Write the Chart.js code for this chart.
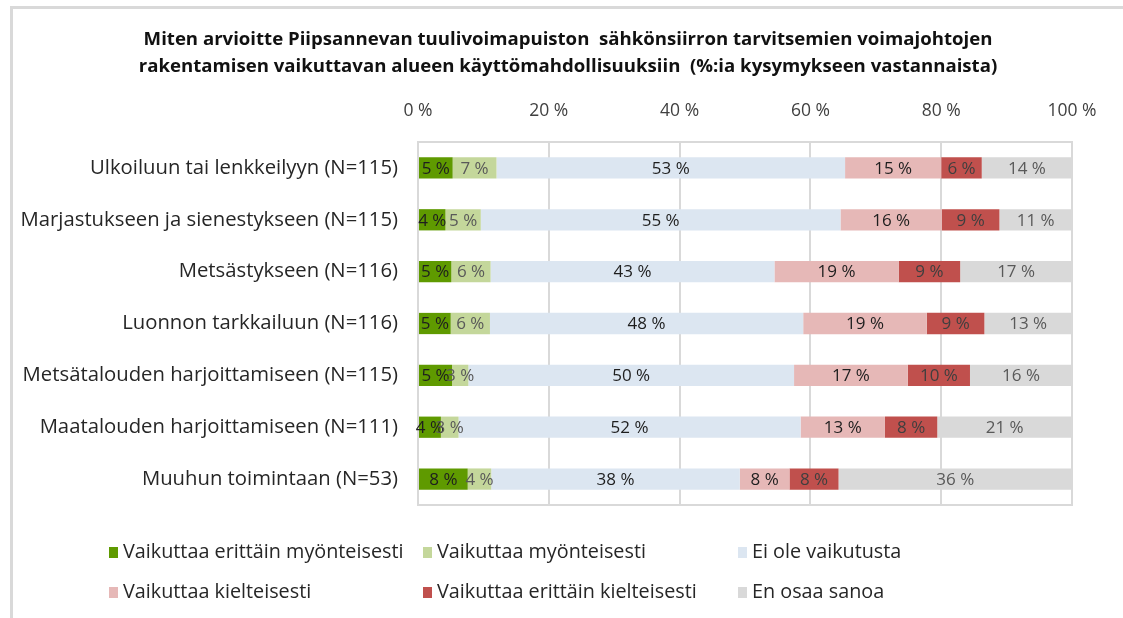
<!DOCTYPE html>
<html>
<head>
<meta charset="utf-8" />
<script src="https://cdn.jsdelivr.net/npm/chart.js@4.4.0/dist/chart.umd.min.js"></script>
<style>
 html, body { margin: 0; padding: 0; background: #fff; }
 #wrap { position: relative; width: 1123px; height: 618px; overflow: hidden; }
 #frame { position: absolute; left: 10px; top: 6px; width: 1200px; height: 700px;
          border-top: 3px solid #d9d9d9; border-left: 3px solid #d9d9d9; }
 #chart { position: absolute; left: 0; top: 0; }
 .leg { position: absolute; font-family: "Open Sans", sans-serif; font-size: 19.8px; color: #262626;
        white-space: nowrap; line-height: 22px; }
 .leg i { display: inline-block; width: 9px; height: 11px; margin-right: 5px; }
</style>
<title>Voimajohdot</title>
</head>
<body>
<div id="wrap">
  <div id="frame"></div>
  <canvas id="chart" width="1123" height="618"></canvas>
  <div id="legend"></div>
</div>
<script>
var titleLines = [
  'Miten arvioitte Piipsannevan tuulivoimapuiston  sähkönsiirron tarvitsemien voimajohtojen',
  'rakentamisen vaikuttavan alueen käyttömahdollisuuksiin  (%:ia kysymykseen vastannaista)'
];
var categories = [
  'Ulkoiluun tai lenkkeilyyn (N=115)',
  'Marjastukseen ja sienestykseen (N=115)',
  'Metsästykseen (N=116)',
  'Luonnon tarkkailuun (N=116)',
  'Metsätalouden harjoittamiseen (N=115)',
  'Maatalouden harjoittamiseen (N=111)',
  'Muuhun toimintaan (N=53)'
];
var seriesNames = [
  'Vaikuttaa erittäin myönteisesti',
  'Vaikuttaa myönteisesti',
  'Ei ole vaikutusta',
  'Vaikuttaa kielteisesti',
  'Vaikuttaa erittäin kielteisesti',
  'En osaa sanoa'
];
var erittainMyont = [5.3, 4.2, 5.1, 5.0, 5.2, 3.5, 7.6];
var myont         = [6.7, 5.4, 6.0, 6.0, 2.5, 2.7, 3.6];
var eiVaikutusta  = [53.3, 55.0, 43.4, 47.9, 49.8, 52.3, 38.0];
var kielt         = [14.7, 15.5, 19.0, 18.9, 17.4, 12.9, 7.6];
var erittainKielt = [6.2, 8.8, 9.4, 8.8, 9.5, 8.0, 7.5];
var enOsaa        = [13.8, 11.1, 17.1, 13.4, 15.6, 20.6, 35.7];
var xTicks = [0, 20, 40, 60, 80, 100];

var colors = ['#5f9a00', '#c4d79b', '#dce6f1', '#e6b8b7', '#c0504d', '#d9d9d9'];
var labelColors = ['#1e1e1e', '#595959', '#1e1e1e', '#1e1e1e', '#3f3f3f', '#595959'];
var allSeries = [erittainMyont, myont, eiVaikutusta, kielt, erittainKielt, enOsaa];
var FONT = '"Open Sans"';

var datasets = allSeries.map(function (vals, i) {
  return {
    label: seriesNames[i],
    data: vals,
    backgroundColor: colors[i],
    borderWidth: 0,
    barPercentage: 0.41,
    categoryPercentage: 1
  };
});

// labels inside each segment
var segLabels = {
  id: 'segLabels',
  afterDatasetsDraw: function (chart) {
    var ctx = chart.ctx;
    ctx.save();
    ctx.font = '17px ' + FONT;
    ctx.textAlign = 'center';
    ctx.textBaseline = 'middle';
    chart.data.datasets.forEach(function (ds, i) {
      chart.getDatasetMeta(i).data.forEach(function (el, j) {
        ctx.fillStyle = labelColors[i];
        ctx.fillText(Math.round(ds.data[j]) + ' %', (el.x + el.base) / 2, el.y + 1);
      });
    });
    ctx.restore();
  }
};

// box around plot area
var plotBox = {
  id: 'plotBox',
  beforeDatasetsDraw: function (chart) {
    var a = chart.chartArea, ctx = chart.ctx;
    ctx.save();
    ctx.strokeStyle = '#d9d9d9';
    ctx.lineWidth = 2;
    ctx.strokeRect(a.left, a.top, a.right - a.left, a.bottom - a.top);
    ctx.restore();
  }
};

// title centred over the whole picture, not over the layout box
var chartTitle = {
  id: 'chartTitle',
  afterDraw: function (chart) {
    var ctx = chart.ctx;
    ctx.save();
    ctx.font = 'bold 18.6px ' + FONT;
    ctx.fillStyle = '#111';
    ctx.textAlign = 'center';
    ctx.textBaseline = 'middle';
    titleLines.forEach(function (t, i) {
      ctx.fillText(t, 568, 40 + i * 27);
    });
    ctx.restore();
  }
};

new Chart(document.getElementById('chart'), {
  type: 'bar',
  data: { labels: categories, datasets: datasets },
  plugins: [plotBox, segLabels, chartTitle],
  options: {
    indexAxis: 'y',
    responsive: false,
    animation: false,
    layout: { padding: { left: 0, right: 51, top: 80, bottom: 113 } },
    plugins: {
      legend: { display: false },
      tooltip: { enabled: false },
      title: { display: false }
    },
    scales: {
      x: {
        position: 'top',
        stacked: true,
        min: 0,
        max: 100,
        afterBuildTicks: function (s) { s.ticks = xTicks.map(function (v) { return { value: v }; }); },
        ticks: {
          callback: function (v) { return v + ' %'; },
          color: '#404040',
          font: { family: FONT, size: 17.5 },
          padding: 20,
          maxRotation: 0
        },
        grid: { color: '#d9d9d9', lineWidth: 2, drawTicks: false },
        border: { display: false },
        afterFit: function (s) { s.height = 62; }
      },
      y: {
        stacked: true,
        ticks: { color: '#262626', font: { family: FONT, size: 20.3 }, padding: 12 },
        grid: { display: false },
        border: { display: false },
        afterFit: function (s) { s.width = 418; }
      }
    }
  }
});

// legend, 3 columns x 2 rows
var legCols = [109, 423, 738];
var legRows = [540, 580];
var legend = document.getElementById('legend');
seriesNames.forEach(function (name, i) {
  var d = document.createElement('div');
  d.className = 'leg';
  d.style.left = legCols[i % 3] + 'px';
  d.style.top = legRows[Math.floor(i / 3)] + 'px';
  d.innerHTML = '<i style="background:' + colors[i] + '"></i>' + name;
  legend.appendChild(d);
});
</script>
</body>
</html>
